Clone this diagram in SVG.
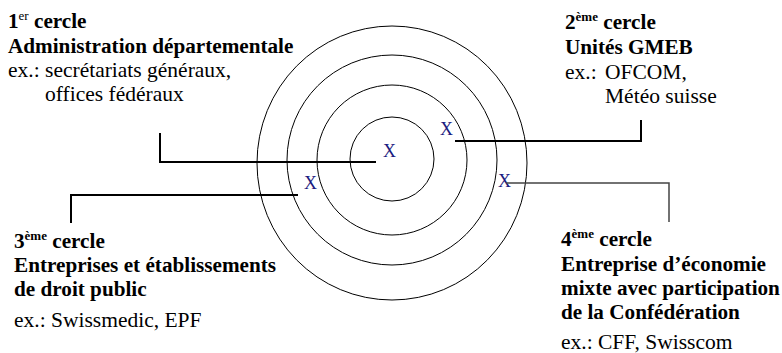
<svg xmlns="http://www.w3.org/2000/svg" width="782" height="353" viewBox="0 0 782 353">
<style>
text{font-family:'Liberation Serif',serif;font-size:21.5px;fill:#000}
.b{font-weight:bold;font-size:21.2px}
.sup{font-size:13px}
.x{font-size:18px;fill:#1a1a80}
.ring{fill:none;stroke:#000;stroke-width:1}
.conn{fill:none;stroke:#000;stroke-width:2}
.conn2{fill:none;stroke:#444;stroke-width:1.5}
</style>
<rect width="782" height="353" fill="#fff"/>
<g id="rings">
<ellipse class="ring" cx="392" cy="163" rx="135" ry="137"/>
<circle class="ring" cx="392" cy="160" r="105"/>
<circle class="ring" cx="392" cy="160" r="75"/>
<circle class="ring" cx="392" cy="159" r="42"/>
</g>
<g id="marks">
<text class="x" x="383" y="157">X</text>
<text class="x" x="440" y="135">X</text>
<text class="x" x="304" y="189">X</text>
<text class="x" x="498" y="187">X</text>
</g>
<g id="connectors">
<polyline class="conn" points="160,133 160,162 376,162"/>
<polyline class="conn" points="455,141 641,141 641,120"/>
<polyline class="conn" points="298,195 71,195 71,223"/>
<polyline class="conn2" points="506,183 669,183 669,222"/>
</g>
<g id="cercle1">
<text class="b" x="8" y="28">1<tspan class="sup" dy="-8" font-weight="normal">er</tspan><tspan dy="8"> cercle</tspan></text>
<text class="b" x="8" y="53">Administration départementale</text>
<text x="8" y="77">ex.: secrétariats généraux,</text>
<text x="45" y="101">offices fédéraux</text>
</g>
<g id="cercle2">
<text class="b" x="565" y="29">2<tspan class="sup" dy="-8">ème</tspan><tspan dy="8"> cercle</tspan></text>
<text class="b" x="565" y="54">Unités GMEB</text>
<text x="565" y="79">ex.:<tspan x="605">OFCOM,</tspan></text>
<text x="605" y="103">Météo suisse</text>
</g>
<g id="cercle3">
<text class="b" x="14" y="248">3<tspan class="sup" dy="-8">ème</tspan><tspan dy="8"> cercle</tspan></text>
<text class="b" x="14" y="272">Entreprises et établissements</text>
<text class="b" x="14" y="296">de droit public</text>
<text x="14" y="327">ex.: Swissmedic, EPF</text>
</g>
<g id="cercle4">
<text class="b" x="561" y="246">4<tspan class="sup" dy="-8">ème</tspan><tspan dy="8"> cercle</tspan></text>
<text class="b" x="561" y="271">Entreprise d’économie</text>
<text class="b" x="561" y="295">mixte avec participation</text>
<text class="b" x="561" y="319">de la Confédération</text>
<text x="561" y="349">ex.: CFF, Swisscom</text>
</g>
</svg>
